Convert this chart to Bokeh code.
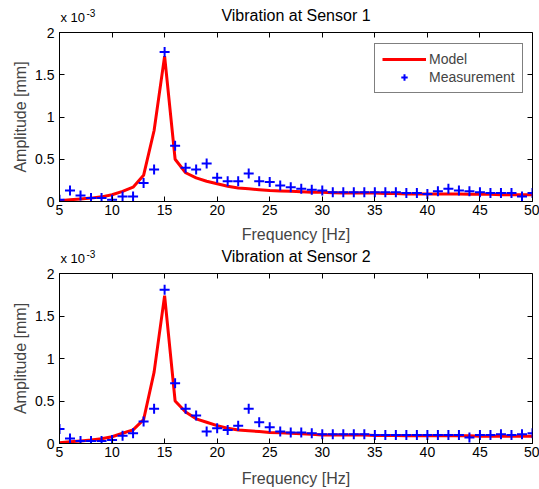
from bokeh.plotting import figure
from bokeh.layouts import column
from bokeh.models import (LinearAxis, FixedTicker, Range1d, Label, Legend, LegendItem,
                          ColumnDataSource)
from bokeh.embed import file_html
from bokeh.resources import INLINE

# ---------------- data (amplitudes in units of 1e-3 mm) ----------------
freq = list(range(5, 51))

model_s1 = [0.01, 0.02, 0.03, 0.04, 0.055, 0.08, 0.12, 0.17, 0.31, 0.84,
            1.72, 0.50, 0.34, 0.28, 0.24, 0.21, 0.18, 0.16, 0.15, 0.14,
            0.13, 0.125, 0.12, 0.115, 0.11, 0.11, 0.105, 0.10, 0.10, 0.10,
            0.10, 0.095, 0.095, 0.09, 0.09, 0.09, 0.09, 0.09, 0.09, 0.085,
            0.085, 0.085, 0.08, 0.08, 0.08, 0.08]
meas_s1 = [0.02, 0.13, 0.07, 0.04, 0.04, 0.02, 0.06, 0.06, 0.22, 0.38,
           1.77, 0.66, 0.40, 0.38, 0.45, 0.28, 0.24, 0.24, 0.33, 0.24,
           0.23, 0.19, 0.17, 0.15, 0.14, 0.13, 0.11, 0.11, 0.11, 0.11,
           0.11, 0.11, 0.11, 0.10, 0.10, 0.09, 0.12, 0.15, 0.13, 0.12,
           0.11, 0.10, 0.10, 0.10, 0.06, 0.10]

model_s2 = [0.01, 0.02, 0.03, 0.04, 0.055, 0.08, 0.12, 0.16, 0.28, 0.84,
            1.74, 0.50, 0.37, 0.29, 0.25, 0.21, 0.18, 0.16, 0.15, 0.14,
            0.13, 0.125, 0.12, 0.115, 0.11, 0.10, 0.10, 0.10, 0.10, 0.10,
            0.095, 0.095, 0.095, 0.09, 0.09, 0.09, 0.09, 0.09, 0.09, 0.09,
            0.085, 0.085, 0.085, 0.085, 0.085, 0.085]
meas_s2 = [0.17, 0.06, 0.03, 0.03, 0.03, 0.04, 0.09, 0.12, 0.26, 0.41,
           1.81, 0.71, 0.41, 0.33, 0.14, 0.18, 0.16, 0.21, 0.41, 0.25,
           0.19, 0.14, 0.13, 0.13, 0.12, 0.11, 0.11, 0.11, 0.11, 0.11,
           0.10, 0.10, 0.10, 0.10, 0.10, 0.10, 0.10, 0.10, 0.10, 0.07,
           0.10, 0.10, 0.11, 0.10, 0.11, 0.12]

x_ticks = [5, 10, 15, 20, 25, 30, 35, 40, 45, 50]
y_ticks = [0, 0.5, 1, 1.5, 2]
y_tick_labels = ["0", "0.5", "1", "1.5", "2"]
titles = ["Vibration at Sensor 1", "Vibration at Sensor 2"]
x_label = "Frequency [Hz]"
y_label = "Amplitude [mm]"
exp_base, exp_power = "x 10", "-3"

FONT = "Liberation Sans"
XMIN, XMAX, YMIN, YMAX = 5, 50, 0, 2
W, BL, BR = 539, 59, 7
TOP, FRAME_H = 8, 170


def make_header(title, height, title_y, base_y, pow_y):
    h = figure(width=W, height=height, output_backend="svg", toolbar_location=None,
               x_range=Range1d(XMIN, XMAX), y_range=Range1d(0, height),
               x_axis_type=None, y_axis_type=None,
               min_border_left=BL, min_border_right=BR, min_border_top=0,
               min_border_bottom=0, outline_line_color=None,
               background_fill_color="white", border_fill_color="white")
    h.grid.visible = False
    h.add_layout(Label(x=(XMIN + XMAX) / 2, y=title_y, text=title, text_align="center",
                       text_baseline="alphabetic", text_font=FONT,
                       text_font_size="16px", text_color="black"))
    h.add_layout(Label(x=XMIN, y=base_y, x_offset=1, text=exp_base, text_align="left",
                       text_baseline="alphabetic", text_font=FONT,
                       text_font_size="13px", text_color="black"))
    h.add_layout(Label(x=XMIN, y=pow_y, x_offset=27, text=exp_power,
                       text_align="left", text_baseline="alphabetic", text_font=FONT,
                       text_font_size="10px", text_color="black"))
    return h


def make_fig(model, meas, legend, bottom, label_standoff):
    p = figure(width=W, height=TOP + FRAME_H + bottom, output_backend="svg",
               toolbar_location=None,
               x_range=Range1d(XMIN, XMAX), y_range=Range1d(YMIN, YMAX),
               min_border_left=BL, min_border_right=BR, min_border_top=TOP,
               min_border_bottom=bottom, background_fill_color="white",
               border_fill_color="white")
    p.outline_line_color = "black"
    p.outline_line_width = 1
    p.grid.visible = False

    src = ColumnDataSource(dict(f=freq, m=model, s=meas))
    r_line = p.line("f", "m", source=src, line_color="#ff0000", line_width=3)
    r_pts = p.scatter("f", "s", source=src, marker="cross", size=10,
                      line_color="#0000ff", line_width=2)

    for ax in p.axis:
        ax.major_tick_in = 5
        ax.major_tick_out = 0
        ax.minor_tick_line_color = None
        ax.major_label_text_font = FONT
        ax.major_label_text_font_size = "14px"
        ax.major_label_text_color = "black"
        ax.axis_label_text_font = FONT
        ax.axis_label_text_font_size = "16px"
        ax.axis_label_text_font_style = "normal"
        ax.axis_line_color = "black"
        ax.major_tick_line_color = "black"
    for ax in p.xaxis:
        ax.ticker = FixedTicker(ticks=x_ticks)
        ax.axis_label = x_label
        ax.major_label_standoff = 3
        ax.axis_label_standoff = label_standoff
    for ax in p.yaxis:
        ax.ticker = FixedTicker(ticks=y_ticks)
        ax.major_label_overrides = {t: l for t, l in zip(y_ticks, y_tick_labels)}
        ax.axis_label = y_label
        ax.major_label_standoff = 5
        ax.axis_label_standoff = 3

    right = LinearAxis(ticker=FixedTicker(ticks=y_ticks), fixed_location=XMAX,
                       major_label_text_color=None, major_tick_in=5, major_tick_out=0,
                       minor_tick_line_color=None, axis_line_color="black",
                       major_tick_line_color="black")
    top = LinearAxis(ticker=FixedTicker(ticks=x_ticks), fixed_location=YMAX,
                     major_label_text_color=None, major_tick_in=5, major_tick_out=0,
                     minor_tick_line_color=None, axis_line_color="black",
                     major_tick_line_color="black")
    p.add_layout(right, "right")
    p.add_layout(top, "above")

    if legend:
        lg = Legend(items=[LegendItem(label="Model", renderers=[r_line]),
                           LegendItem(label="Measurement", renderers=[r_pts])],
                    location=(315, 108), padding=7, spacing=2, margin=0,
                    glyph_width=44, glyph_height=16, label_height=16,
                    label_standoff=3,
                    label_text_font=FONT, label_text_font_size="14px",
                    border_line_color="black", border_line_width=1,
                    background_fill_color="white", background_fill_alpha=1.0)
        p.add_layout(lg, "center")
    return p


h1 = make_header(titles[0], 24, 9, 7, 12)
p1 = make_fig(model_s1, meas_s1, True, 43, 8)
h2 = make_header(titles[1], 20, 9, 7, 12)
p2 = make_fig(model_s2, meas_s2, False, 46, 10)
layout = column(h1, p1, h2, p2, spacing=0)

open("out.html", "w").write(file_html(layout, INLINE))
